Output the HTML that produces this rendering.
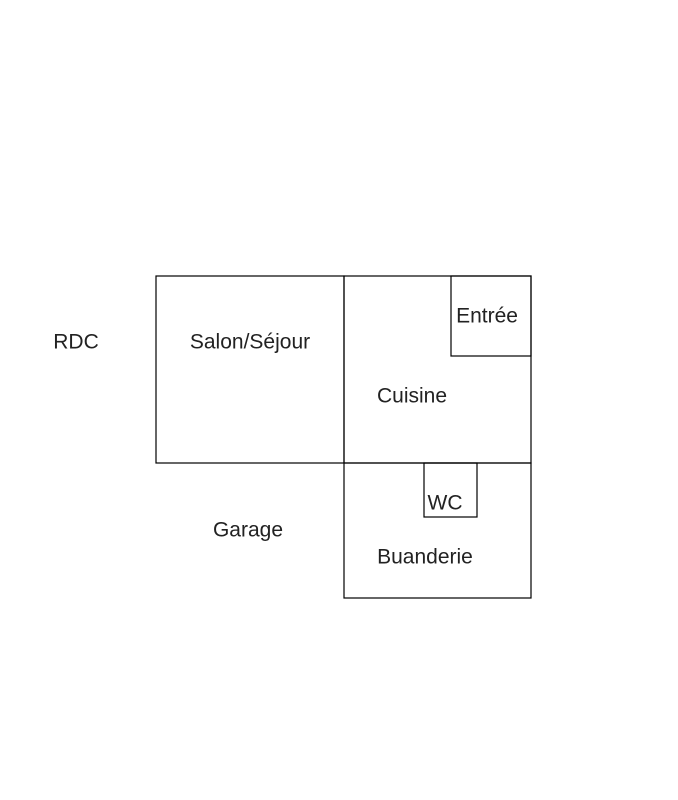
<!DOCTYPE html>
<html><head><meta charset="utf-8"><style>
html,body{margin:0;padding:0;background:#fff;}
</style></head><body>
<svg width="678" height="800" xmlns="http://www.w3.org/2000/svg" style="display:block">
<rect width="678" height="800" fill="#fff"/>
<g fill="none" stroke="#000" stroke-width="1.2">
<rect x="156" y="276" width="188" height="187"/>
<rect x="344" y="276" width="187" height="187"/>
<rect x="451" y="276" width="80" height="80"/>
<rect x="344" y="463" width="187" height="135"/>
<rect x="424" y="463" width="53" height="54"/>
</g>
<g font-family="Liberation Sans, sans-serif" font-size="21" fill="#222" text-anchor="middle" dominant-baseline="central">
<text x="76" y="342">RDC</text>
<text x="250" y="342">Salon/Séjour</text>
<text x="487" y="316">Entrée</text>
<text x="412" y="396">Cuisine</text>
<text x="445" y="503">WC</text>
<text x="248" y="530">Garage</text>
<text x="425" y="557">Buanderie</text>
</g>
</svg>
</body></html>
